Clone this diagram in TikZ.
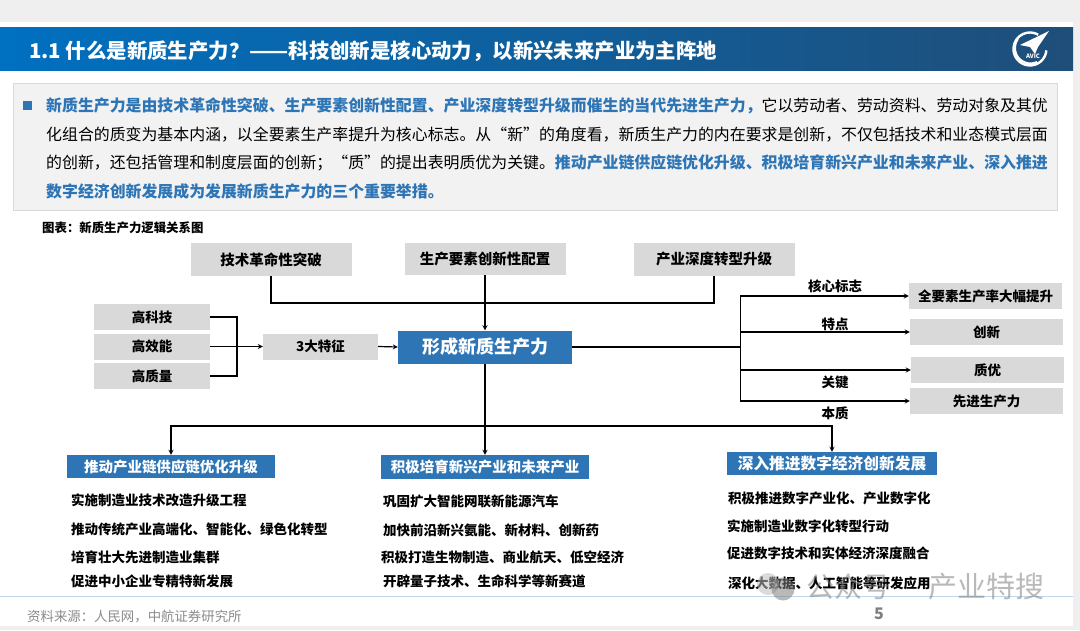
\documentclass[tikz,border=0pt]{standalone}
\usepackage{fontspec}
\setmainfont{Noto Sans CJK SC}
\usepackage{xcolor}
\usepackage{tikz}
\usetikzlibrary{shapes,arrows,positioning,fit,backgrounds}
\definecolor{pagegray}{HTML}{EFEFEF}
\definecolor{boxgray}{HTML}{D9D9D9}
\definecolor{panelgray}{HTML}{F2F2F2}
\definecolor{mainblue}{HTML}{2E75B6}
\definecolor{bannerleft}{HTML}{0070C0}
\definecolor{bannerright}{HTML}{1F4E79}
\definecolor{footline}{HTML}{BDD7EE}

\begin{document}
\begin{tikzpicture}[x=1pt,y=-1pt,
  graybox/.style={rectangle, fill=boxgray, minimum height=26pt, inner sep=0pt, align=center, font=\fontsize{13.5}{15}\selectfont\bfseries},
  bluebox/.style={rectangle, fill=mainblue, text=white, inner sep=0pt, align=center, font=\fontsize{14.5}{16}\selectfont\bfseries},
  item/.style={anchor=west, inner sep=0pt, font=\fontsize{13.5}{15}\selectfont\bfseries},
  tag/.style={inner sep=0pt, font=\fontsize{13.5}{15}\selectfont\bfseries},
  para/.style={anchor=west, inner sep=0pt, font=\fontsize{15.9}{18}\selectfont},
  arrow/.style={->, >=stealth, line width=1.2pt},
  link/.style={line width=1.2pt}
]
\useasboundingbox (0,0) rectangle (1080,630);

% Page
\fill[white] (0,0) rectangle (1080,630);
\fill[pagegray] (0,0) rectangle (1080,22);
\fill[pagegray] (1073,0) rectangle (1080,630);
\fill[pagegray] (0,626) rectangle (1080,630);
\draw[footline, line width=0.8pt] (0,596) -- (1073,596);

% Banner
\shade[left color=bannerleft, middle color=mainblue, right color=bannerright] (0,27) rectangle (1073,70);
\node[anchor=west, inner sep=0pt, text=white, font=\fontsize{20.4}{22}\selectfont\bfseries] (title) at (29,51) {1.1 什么是新质生产力？\scalebox{1.12}[1]{——}科技创新是核心动力，以新兴未来产业为主阵地};

% Logo
\draw[white, line width=2.4pt] (1046.4,50.4) arc (5:300:16.5);
\draw[white, line width=2pt] (1037,62) arc (65:215:15.5);
\fill[white] (1049,31) -- (1020,45) -- (1030,47) -- (1035,54) -- (1038,47) -- cycle;
\node[inner sep=0pt, text=white, font=\fontsize{6}{7}\selectfont\bfseries] (avic) at (1033,56) {AVIC};

% Intro panel
\draw[boxgray, fill=panelgray, line width=0.8pt] (13,83) rectangle (1057,210);
\node[rectangle, fill=mainblue, minimum size=9pt, inner sep=0pt] (bullet) at (27,105) {};
\node[para] (line1) at (46,106) {\textcolor{mainblue}{\bfseries 新质生产力是由技术革命性突破、生产要素创新性配置、产业深度转型升级而催生的当代先进生产力，}它以劳动者、劳动资料、劳动对象及其优};
\node[para] (line2) at (46,135) {化组合的质变为基本内涵，以全要素生产率提升为核心标志。从“新”的角度看，新质生产力的内在要求是创新，不仅包括技术和业态模式层面};
\node[para] (line3) at (46,163) {的创新，还包括管理和制度层面的创新；“质”的提出表明质优为关键。\textcolor{mainblue}{\bfseries 推动产业链供应链优化升级、积极培育新兴产业和未来产业、深入推进}};
\node[para, text=mainblue, font=\fontsize{15.9}{18}\selectfont\bfseries] (line4) at (46,191) {数字经济创新发展成为发展新质生产力的三个重要举措。};

% Caption
\node[anchor=west, inner sep=0pt, font=\fontsize{12.4}{14}\selectfont\bfseries] (caption) at (42,228) {图表：新质生产力逻辑关系图};

% Drivers
\node[graybox, minimum width=161pt, minimum height=33pt, font=\fontsize{14.5}{16}\selectfont\bfseries] (tech) at (271,259.5) {技术革命性突破};
\node[graybox, minimum width=161pt, minimum height=32pt, font=\fontsize{14.5}{16}\selectfont\bfseries] (factor) at (485,259) {生产要素创新性配置};
\node[graybox, minimum width=161pt, minimum height=33pt, font=\fontsize{14.5}{16}\selectfont\bfseries] (industry) at (714,259.5) {产业深度转型升级};

% Features
\node[graybox, minimum width=116pt] (hightech) at (152,317) {高科技};
\node[graybox, minimum width=116pt] (higheff) at (152,346.5) {高效能};
\node[graybox, minimum width=116pt] (highqual) at (152,376) {高质量};
\node[graybox, minimum width=115pt] (feature) at (320.5,346.5) {3大特征};

% Core
\node[bluebox, minimum width=174pt, minimum height=33pt, font=\fontsize{18}{20}\selectfont\bfseries] (core) at (485,347) {形成新质生产力};

% Outcomes
\node[graybox, minimum width=153pt] (factorrate) at (985.5,296) {全要素生产率大幅提升};
\node[graybox, minimum width=153pt] (innov) at (986.5,332) {创新};
\node[graybox, minimum width=153pt] (quality) at (987.5,370) {质优};
\node[graybox, minimum width=153pt] (advanced) at (986.5,401) {先进生产力};
\node[tag] (marktag) at (835,286) {核心标志};
\node[tag] (traittag) at (835,324) {特点};
\node[tag] (keytag) at (835,382) {关键};
\node[tag] (basetag) at (835,413) {本质};

% Measures
\node[bluebox, minimum width=208pt, minimum height=23pt] (chain) at (171,466.5) {推动产业链供应链优化升级};
\node[bluebox, minimum width=208pt, minimum height=24pt] (emerging) at (485,467) {积极培育新兴产业和未来产业};
\node[bluebox, minimum width=210pt, minimum height=23pt, font=\fontsize{15.7}{17}\selectfont\bfseries] (digital) at (832,463.5) {深入推进数字经济创新发展};

\node[item] (chaina) at (71,500) {实施制造业技术改造升级工程};
\node[item] (chainb) at (71,529) {推动传统产业高端化、智能化、绿色化转型};
\node[item] (chainc) at (71,557.5) {培育壮大先进制造业集群};
\node[item] (chaind) at (71,581) {促进中小企业专精特新发展};

\node[item] (emerga) at (383,501) {巩固扩大智能网联新能源汽车};
\node[item] (emergb) at (383,530) {加快前沿新兴氨能、新材料、创新药};
\node[item] (emergc) at (381,557) {积极打造生物制造、商业航天、低空经济};
\node[item] (emergd) at (383,581) {开辟量子技术、生命科学等新赛道};

\node[item] (digita) at (728,498) {积极推进数字产业化、产业数字化};
\node[item] (digitb) at (727,526) {实施制造业数字化转型行动};
\node[item] (digitc) at (727,553) {促进数字技术和实体经济深度融合};
\node[item] (digitd) at (728,583) {深化大数据、人工智能等研发应用};

% Footer
\node[anchor=west, inner sep=0pt, text=black!45, font=\fontsize{13.4}{15}\selectfont] (source) at (27,617) {资料来源：人民网，中航证券研究所};
\node[inner sep=0pt, text=gray, font=\fontsize{16}{18}\selectfont\bfseries] (pagenum) at (879,614) {5};

% Joints
\coordinate (topjoin) at (485,303);
\coordinate (leftjoin) at (237,346.5);
\coordinate (rightjoin) at (740.5,347);
\coordinate (downjoin) at (485,426);

% Connections
\draw[link] (tech.south) |- (topjoin);
\draw[link] (industry.south) |- (topjoin);
\draw[arrow] (factor.south) -- (core.north);
\draw[link] (hightech.east) -| (leftjoin);
\draw[link] (highqual.east) -| (leftjoin);
\draw[arrow] (higheff.east) -- (feature.west);
\draw[arrow] (feature.east) -- (core.west);
\draw[link] (core.east) -- (rightjoin);
\draw[arrow] (rightjoin) |- (factorrate.west);
\draw[arrow] (rightjoin) |- (innov.west);
\draw[arrow] (rightjoin) |- (quality.west);
\draw[arrow] (rightjoin) |- (advanced.west);
\draw[arrow] (core.south) -- (emerging.north);
\draw[arrow] (downjoin) -| (chain.north);
\draw[arrow] (downjoin) -| (digital.north);

% Watermark
\begin{scope}[opacity=0.55]
\fill[black!25] (768,584) circle (11);
\fill[gray] (783,589) circle (11.5);
\node[anchor=west, inner sep=0pt, text=gray, font=\fontsize{28}{30}\selectfont] (markleft) at (806,587) {公众号};
\node[anchor=west, inner sep=0pt, text=gray, font=\fontsize{29}{31}\selectfont] (markright) at (928,587) {产业特搜};
\end{scope}
\end{tikzpicture}
\end{document}
